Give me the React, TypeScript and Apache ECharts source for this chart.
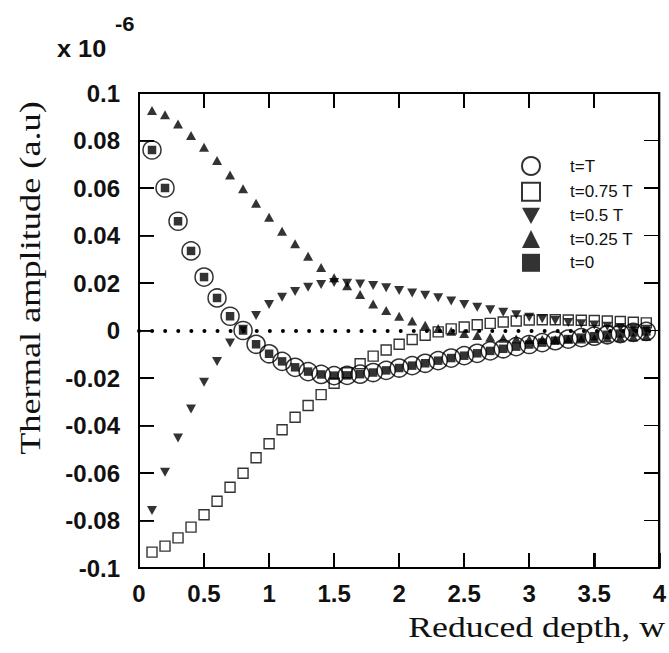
import React, { useEffect, useRef, useState } from 'react';
import * as echarts from 'echarts';

// Reduced depth w (x values of all points)
const depth = [
  0.1, 0.2, 0.3, 0.4, 0.5, 0.6, 0.7, 0.8, 0.9,
  1.0, 1.1, 1.2, 1.3, 1.4, 1.5, 1.6, 1.7, 1.8, 1.9,
  2.0, 2.1, 2.2, 2.3, 2.4, 2.5, 2.6, 2.7, 2.8, 2.9,
  3.0, 3.1, 3.2, 3.3, 3.4, 3.5, 3.6, 3.7, 3.8, 3.9,
];

// t = T (open circles)
const ampT = [
  0.076, 0.060, 0.046, 0.0335, 0.0225, 0.0137, 0.006, 0.0, -0.0058,
  -0.0098, -0.013, -0.0155, -0.0173, -0.0185, -0.019, -0.0189, -0.0184, -0.0177, -0.0168,
  -0.0158, -0.0148, -0.0138, -0.0127, -0.0116, -0.0106, -0.0096, -0.0086, -0.0077, -0.0068,
  -0.0059, -0.0051, -0.0043, -0.0036, -0.003, -0.0024, -0.0018, -0.0013, -0.0008, -0.0004,
];

// t = 0.75 T (open squares)
const amp075 = [
  -0.0933, -0.0908, -0.0873, -0.0828, -0.0776, -0.0719, -0.066, -0.0601, -0.0536,
  -0.0477, -0.0418, -0.0365, -0.0316, -0.027, -0.0222, -0.0178, -0.014, -0.0108, -0.0082,
  -0.0058, -0.0038, -0.002, -0.0006, 0.0007, 0.0015, 0.0024, 0.003, 0.0036, 0.004,
  0.0044, 0.0045, 0.0045, 0.0044, 0.0043, 0.0042, 0.004, 0.0038, 0.0035, 0.0032,
];

// t = 0.5 T (down triangles)
const amp05 = [
  -0.0758, -0.0597, -0.0453, -0.033, -0.0218, -0.013, -0.0053, 0.0005, 0.0063,
  0.011, 0.014, 0.0164, 0.0182, 0.0194, 0.0202, 0.0199, 0.0196, 0.019, 0.018,
  0.0168, 0.0158, 0.0148, 0.0138, 0.0124, 0.011, 0.0098, 0.0087, 0.0077, 0.0066,
  0.0056, 0.0049, 0.0042, 0.0034, 0.0028, 0.0023, 0.0018, 0.0013, 0.0009, 0.0005,
];

// t = 0.25 T (up triangles)
const amp025 = [
  0.0926, 0.0908, 0.087, 0.0821, 0.0772, 0.0716, 0.0655, 0.0597, 0.0536,
  0.0477, 0.0418, 0.0365, 0.0313, 0.0265, 0.0222, 0.0188, 0.0152, 0.0112, 0.0084,
  0.006, 0.004, 0.0022, 0.0008, -0.0003, -0.0013, -0.0021, -0.0028, -0.0033, -0.0036,
  -0.0038, -0.0038, -0.0038, -0.0037, -0.0036, -0.0034, -0.0032, -0.003, -0.0027, -0.0024,
];

// t = 0 (filled squares)
const amp0 = [
  0.076, 0.060, 0.046, 0.0335, 0.0225, 0.0137, 0.006, 0.0, -0.0058,
  -0.0098, -0.013, -0.0155, -0.0173, -0.0185, -0.019, -0.0189, -0.0184, -0.0177, -0.0168,
  -0.0158, -0.0148, -0.0138, -0.0127, -0.0116, -0.0106, -0.0096, -0.0086, -0.0077, -0.0068,
  -0.0059, -0.0051, -0.0043, -0.0036, -0.003, -0.0024, -0.0018, -0.0013, -0.0008, -0.0004,
];

const seriesNames = ['t=T', 't=0.75 T', 't=0.5 T', 't=0.25 T', 't=0'];

const xMin = 0;
const xMax = 4;
const xStep = 0.5;
const yMin = -0.1;
const yMax = 0.1;
const yStep = 0.02;

const SANS = 'Liberation Sans, Arial, sans-serif';
const SERIF = 'Liberation Serif, Times New Roman, serif';
const INK = '#111111';
const MARK = '#000000';
const TICK_LEN = 15;
const TICK_W = 1.8;

type Overlay = { x0: number; y0: number; x1: number; y1: number; xt: number[]; yt: number[] };

export default function App() {
  const ref = useRef<HTMLDivElement>(null);
  const [ov, setOv] = useState<Overlay | null>(null);

  useEffect(() => {
    const chart = echarts.init(ref.current!, null, { renderer: 'svg' });
    const pts = (vals: number[]) => depth.map((d, i) => [d, vals[i]]);

    const downTri = 'path://M0,0L10,0L5,9Z';

    const option: any = {
      animation: false,
      grid: { left: 139, top: 93, right: 7, bottom: 85, show: true, borderColor: MARK, borderWidth: 2 },
      xAxis: {
        type: 'value', min: xMin, max: xMax, interval: xStep, position: 'bottom',
        axisLine: { show: true, onZero: false, lineStyle: { color: MARK, width: 2 } },
        axisTick: { show: true, inside: true, length: TICK_LEN, lineStyle: { color: MARK, width: TICK_W } },
        splitLine: { show: false },
        axisLabel: {
          fontFamily: SANS, fontWeight: 'bold', fontSize: 24, color: INK, margin: 13,
          formatter: (v: number) => String(parseFloat(v.toFixed(2))),
        },
      },
      yAxis: {
        type: 'value', min: yMin, max: yMax, interval: yStep, position: 'left',
        axisLine: { show: true, onZero: false, lineStyle: { color: MARK, width: 2 } },
        axisTick: { show: true, inside: true, length: TICK_LEN, lineStyle: { color: MARK, width: TICK_W } },
        splitLine: { show: false },
        axisLabel: {
          fontFamily: SANS, fontWeight: 'bold', fontSize: 24, color: INK, margin: 19,
          formatter: (v: number) => String(parseFloat(v.toFixed(3))),
        },
      },
      legend: {
        orient: 'vertical',
        left: 521,
        top: 156,
        padding: 0,
        itemWidth: 18,
        itemHeight: 18,
        itemGap: 5.7,
        data: seriesNames,
        textStyle: { fontFamily: SANS, fontSize: 17, color: INK, padding: [0, 0, 0, 25] },
      },
      series: [
        {
          name: seriesNames[0], type: 'scatter', data: pts(ampT), symbol: 'circle', symbolSize: 18,
          itemStyle: { color: 'rgba(0,0,0,0)', borderColor: MARK, borderWidth: 1.5 },
          markLine: {
            silent: true, symbol: ['none', 'none'], label: { show: false },
            lineStyle: { color: MARK, width: 4, type: [0.01, 13.075], cap: 'round' },
            data: [{ yAxis: 0 }],
          },
        },
        {
          name: seriesNames[1], type: 'scatter', data: pts(amp075), symbol: 'rect', symbolSize: 10,
          itemStyle: { color: 'rgba(0,0,0,0)', borderColor: MARK, borderWidth: 1.4 },
        },
        {
          name: seriesNames[2], type: 'scatter', data: pts(amp05), symbol: downTri, symbolSize: [10, 9],
          itemStyle: { color: MARK },
        },
        {
          name: seriesNames[3], type: 'scatter', data: pts(amp025), symbol: 'triangle', symbolSize: [10, 9],
          itemStyle: { color: MARK },
        },
        {
          name: seriesNames[4], type: 'scatter', data: pts(amp0), symbol: 'rect', symbolSize: 8.5,
          itemStyle: { color: MARK },
        },
      ],
      graphic: [
        {
          type: 'text', x: 57, y: 49, scaleX: 1.1,
          style: { text: 'x 10', font: `bold 23px ${SANS}`, fill: INK, align: 'left', textAlign: 'left', verticalAlign: 'middle', textVerticalAlign: 'middle' },
        },
        {
          type: 'text', x: 115, y: 24, scaleX: 1.1,
          style: { text: '-6', font: `bold 20px ${SANS}`, fill: INK, align: 'left', textAlign: 'left', verticalAlign: 'middle', textVerticalAlign: 'middle' },
        },
        {
          type: 'text', x: 665, y: 627, scaleX: 1.19,
          style: { text: 'Reduced depth, w', font: `30px ${SERIF}`, fill: INK, align: 'right', textAlign: 'right', verticalAlign: 'middle', textVerticalAlign: 'middle' },
        },
        {
          type: 'text', x: 30, y: 278, rotation: Math.PI / 2, scaleX: 1.21,
          style: { text: 'Thermal amplitude (a.u)', font: `30px ${SERIF}`, fill: INK, align: 'center', textAlign: 'center', verticalAlign: 'middle', textVerticalAlign: 'middle' },
        },
      ],
    };

    chart.setOption(option);

    // Frame and inward ticks on all four sides, placed through the chart's own scales.
    const tl = chart.convertToPixel({ gridIndex: 0 }, [xMin, yMax]) as number[];
    const br = chart.convertToPixel({ gridIndex: 0 }, [xMax, yMin]) as number[];
    const xt: number[] = [];
    for (let i = 0; i <= Math.round((xMax - xMin) / xStep); i++) {
      xt.push(chart.convertToPixel({ xAxisIndex: 0 }, xMin + i * xStep) as number);
    }
    const yt: number[] = [];
    for (let i = 0; i <= Math.round((yMax - yMin) / yStep); i++) {
      yt.push(chart.convertToPixel({ yAxisIndex: 0 }, yMin + i * yStep) as number);
    }
    setOv({ x0: tl[0], y0: tl[1], x1: br[0], y1: br[1], xt, yt });

    return () => chart.dispose();
  }, []);

  const bar = (left: number, top: number, width: number, height: number, key: string) => (
    <div
      key={key}
      style={{ position: 'absolute', left, top, width, height, background: MARK, pointerEvents: 'none' }}
    />
  );

  return (
    <div style={{ position: 'absolute', left: 0, top: 0, width: 669, height: 653 }}>
      <div ref={ref} style={{ position: 'absolute', left: 0, top: 0, width: 669, height: 653 }} />
      {ov && (
        <>
          <div
            style={{
              position: 'absolute',
              left: ov.x0 - 1,
              top: ov.y0 - 1,
              width: ov.x1 - ov.x0 + 2,
              height: ov.y1 - ov.y0 + 2,
              border: `2px solid ${MARK}`,
              boxSizing: 'border-box',
              pointerEvents: 'none',
            }}
          />
          {ov.xt.map((x, i) => bar(x - TICK_W / 2, ov.y1 - TICK_LEN, TICK_W, TICK_LEN, `xb${i}`))}
          {ov.xt.map((x, i) => bar(x - TICK_W / 2, ov.y0, TICK_W, TICK_LEN, `xt${i}`))}
          {ov.yt.map((y, i) => bar(ov.x0, y - TICK_W / 2, TICK_LEN, TICK_W, `yl${i}`))}
          {ov.yt.map((y, i) => bar(ov.x1 - TICK_LEN, y - TICK_W / 2, TICK_LEN, TICK_W, `yr${i}`))}
        </>
      )}
    </div>
  );
}
